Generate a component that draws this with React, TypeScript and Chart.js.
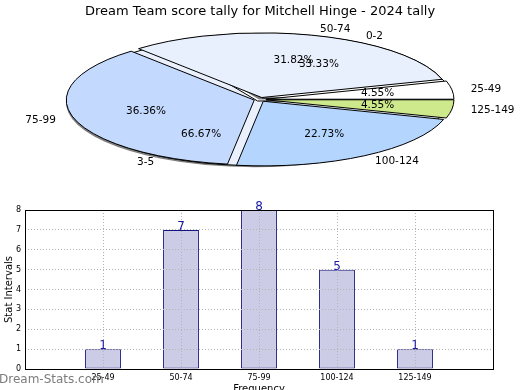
import React, { useEffect, useRef } from 'react';
import { Chart, registerables } from 'chart.js';

Chart.register(...registerables);

const TITLE = 'Dream Team score tally for Mitchell Hinge - 2024 tally';
const scoreBands = ['25-49', '50-74', '75-99', '100-124', '125-149'];
const scoreCounts = [1, 7, 8, 5, 1];
const scoreColors = ['#ffffff', '#e9f0fd', '#c4d9fe', '#b4d5fe', '#cde98c'];
const streakBands = ['0-2', '3-5'];
const streakCounts = [1, 2];
const streakColors = ['#ffffff', '#eaf1fd'];
const yAxisTitle = 'Stat Intervals';
const xAxisTitle = 'Frequency';
const watermark = 'Dream-Stats.com';

const FONT = 'DejaVu Sans';
const PIE_CY = 99.5;
const PIE_K = 0.344;
const PIE_R = 188;

const rev = <T,>(a: T[]) => a.slice().reverse();

function centerY(chart: any) {
  return (chart.chartArea.top + chart.chartArea.bottom) / 2;
}
function applyEllipse(chart: any) {
  const ctx = chart.ctx;
  const cy0 = centerY(chart);
  ctx.translate(0, PIE_CY);
  ctx.scale(1, PIE_K);
  ctx.translate(0, -cy0);
}
function mapY(chart: any, y: number) {
  return PIE_CY + (y - centerY(chart)) * PIE_K;
}

function ellipsePlugin(explode: number, shadow: boolean) {
  return {
    id: 'ellipsePie',
    afterDatasetsUpdate(chart: any) {
      const meta = chart.getDatasetMeta(0);
      meta.data.forEach((el: any) => {
        const mid = (el.startAngle + el.endAngle) / 2;
        el.x += Math.cos(mid) * explode;
        el.y += Math.sin(mid) * explode;
      });
    },
    beforeDatasetsDraw(chart: any) {
      const ctx = chart.ctx;
      ctx.save();
      applyEllipse(chart);
      if (shadow) {
        ctx.shadowColor = 'rgba(0,0,0,0.5)';
        ctx.shadowOffsetX = -3.5;
        ctx.shadowOffsetY = 1.5;
        ctx.shadowBlur = 0.5;
      }
    },
    afterDatasetsDraw(chart: any) {
      const ctx = chart.ctx;
      ctx.restore();
      const meta = chart.getDatasetMeta(0);
      meta.data.forEach((el: any) => {
        ctx.save();
        ctx.save();
        applyEllipse(chart);
        ctx.beginPath();
        ctx.moveTo(el.x, el.y);
        ctx.arc(el.x, el.y, el.outerRadius, el.startAngle, el.endAngle);
        ctx.closePath();
        ctx.restore();
        ctx.lineWidth = 1;
        ctx.strokeStyle = '#000';
        ctx.stroke();
        ctx.restore();
      });
    },
  };
}

function drawPieLabels(chart: any, ctx: CanvasRenderingContext2D) {
  const meta = chart.getDatasetMeta(0);
  const labels = chart.data.labels as string[];
  const data = chart.data.datasets[0].data as number[];
  const total = data.reduce((a, b) => a + b, 0);
  ctx.save();
  ctx.font = `10.5px "${FONT}"`;
  ctx.fillStyle = '#000';
  ctx.textBaseline = 'middle';
  meta.data.forEach((el: any, i: number) => {
    const mid = (el.startAngle + el.endAngle) / 2;
    const c = Math.cos(mid);
    const s = Math.sin(mid);
    const R = el.outerRadius;
    const lx = el.x + c * R * 1.1;
    const ly = mapY(chart, el.y + s * R * 1.1);
    ctx.textAlign = c > 0 ? 'left' : 'right';
    ctx.fillText(labels[i], lx, ly);
    const px = el.x + c * R * 0.6;
    const py = mapY(chart, el.y + s * R * 0.6);
    ctx.textAlign = 'center';
    ctx.fillText(((data[i] / total) * 100).toFixed(2) + '%', px, py);
  });
  ctx.restore();
}

function pieConfig(labels: string[], values: number[], colors: string[], plugins: any[]) {
  return {
    type: 'pie' as const,
    data: {
      labels: rev(labels),
      datasets: [
        {
          data: rev(values),
          backgroundColor: rev(colors),
          borderWidth: 0,
          offset: 0,
        },
      ],
    },
    options: {
      responsive: false,
      animation: false as const,
      events: [],
      rotation: 90,
      radius: PIE_R,
      layout: { padding: 0 },
      plugins: { legend: { display: false }, tooltip: { enabled: false } },
    },
    plugins,
  };
}

export default function App() {
  const barRef = useRef<HTMLCanvasElement>(null);
  const backRef = useRef<HTMLCanvasElement>(null);
  const frontRef = useRef<HTMLCanvasElement>(null);

  useEffect(() => {
    const barLabelsPlugin = {
      id: 'barExtras',
      afterDraw(chart: any) {
        const ctx = chart.ctx;
        const { left, right, top, bottom } = chart.chartArea;
        ctx.save();
        ctx.strokeStyle = '#000';
        ctx.lineWidth = 1;
        ctx.strokeRect(Math.round(left) + 0.5, Math.round(top) + 0.5, Math.round(right - left), Math.round(bottom - top));
        const meta = chart.getDatasetMeta(0);
        const data = chart.data.datasets[0].data;
        ctx.font = `12px "${FONT}"`;
        ctx.fillStyle = '#1a1aa0';
        ctx.textAlign = 'center';
        ctx.textBaseline = 'alphabetic';
        meta.data.forEach((el: any, i: number) => {
          const v = data[i];
          if (v === null || v === undefined) return;
          ctx.fillText(String(v), el.x, el.y);
        });
        ctx.font = `12px "${FONT}"`;
        ctx.fillStyle = 'rgba(110,110,110,0.9)';
        ctx.textAlign = 'left';
        ctx.textBaseline = 'middle';
        ctx.fillText(watermark, -1, 380);
        ctx.restore();
      },
    };

    const gridColor = '#b4b4b4';
    const bar = new Chart(barRef.current!, {
      type: 'bar',
      data: {
        labels: ['', ...scoreBands, ''],
        datasets: [
          {
            data: [null, ...scoreCounts, null],
            backgroundColor: '#ccccE6',
            borderColor: '#16167e',
            borderWidth: 1,
            borderSkipped: false,
            barPercentage: 0.46,
            categoryPercentage: 1,
          },
        ],
      },
      options: {
        responsive: false,
        animation: false,
        events: [],
        layout: { padding: { top: 210, left: 0, right: 27, bottom: 0 } },
        plugins: { legend: { display: false }, tooltip: { enabled: false } },
        scales: {
          x: {
            type: 'category',
            offset: false,
            afterFit: (s: any) => {
              s.height = 21;
            },
            grid: { offset: false, color: gridColor, lineWidth: 1, drawTicks: false, z: 1 },
            border: { display: false, dash: [1, 2] },
            ticks: { font: { family: FONT, size: 8 }, color: '#000', padding: 4, maxRotation: 0, autoSkip: false },
            title: {
              display: true,
              text: xAxisTitle,
              font: { family: FONT, size: 10 },
              color: '#000',
              padding: { top: 0, bottom: -5 },
            },
          },
          y: {
            min: 0,
            max: 8,
            afterFit: (s: any) => {
              s.width = 25;
            },
            grid: { color: gridColor, lineWidth: 1, drawTicks: false, z: 1 },
            border: { display: false, dash: [1, 2] },
            ticks: { stepSize: 1, font: { family: FONT, size: 8 }, color: '#000', padding: 4 },
            title: {
              display: true,
              text: yAxisTitle,
              font: { family: FONT, size: 10 },
              color: '#000',
              padding: { top: 3, bottom: 0 },
            },
          },
        },
      } as any,
      plugins: [barLabelsPlugin],
    } as any);

    const back = new Chart(
      backRef.current!,
      pieConfig(streakBands, streakCounts, streakColors, [ellipsePlugin(5, true)]) as any
    );

    const frontLabels = {
      id: 'frontLabels',
      afterDraw(chart: any) {
        const ctx = chart.ctx;
        drawPieLabels(back, ctx);
        drawPieLabels(chart, ctx);
        ctx.save();
        ctx.font = `13px "${FONT}"`;
        ctx.fillStyle = '#000';
        ctx.textAlign = 'center';
        ctx.textBaseline = 'alphabetic';
        ctx.fillText(TITLE, 260, 14.5);
        ctx.restore();
      },
    };
    const front = new Chart(
      frontRef.current!,
      pieConfig(scoreBands, scoreCounts, scoreColors, [ellipsePlugin(6, false), frontLabels]) as any
    );

    return () => {
      front.destroy();
      back.destroy();
      bar.destroy();
    };
  }, []);

  const cs: React.CSSProperties = { position: 'absolute', left: 0, top: 0 };
  return (
    <div style={{ position: 'fixed', left: 0, top: 0, width: 520, height: 390, background: '#fff' }}>
      <canvas ref={barRef} width={520} height={390} style={cs} />
      <canvas ref={backRef} width={520} height={390} style={cs} />
      <canvas ref={frontRef} width={520} height={390} style={cs} />
    </div>
  );
}
